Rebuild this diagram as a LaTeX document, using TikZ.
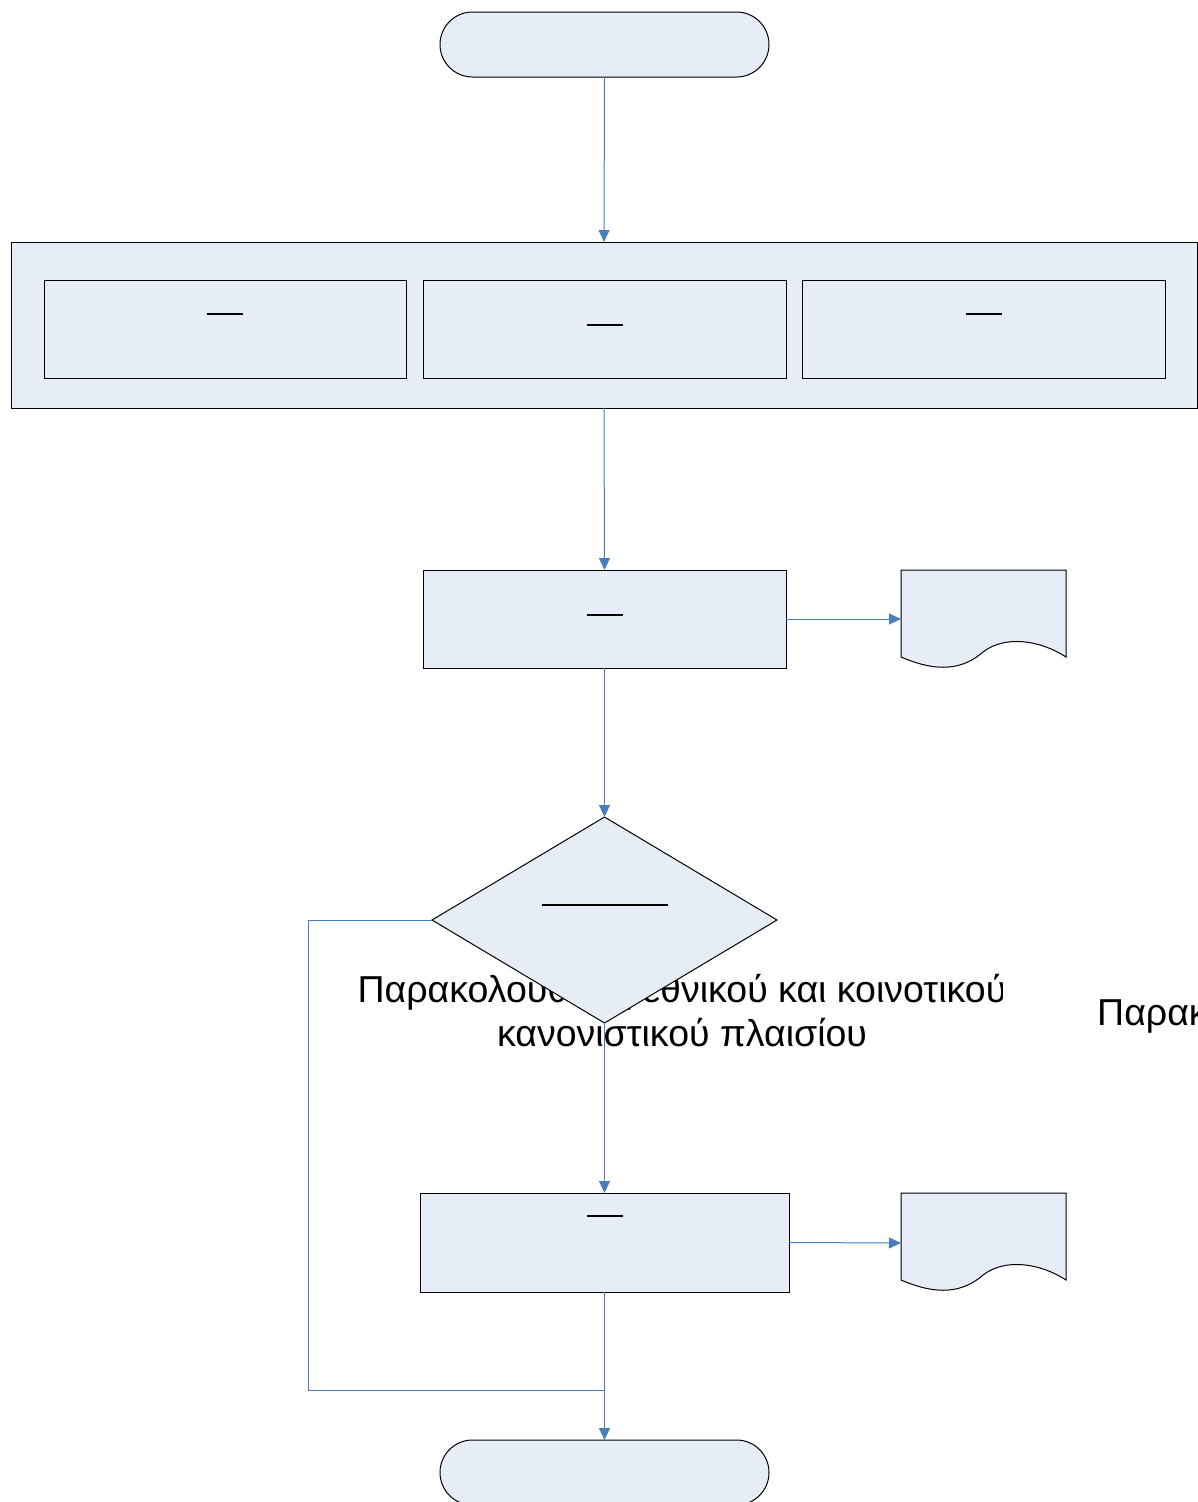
\documentclass[tikz,border=0pt]{standalone}
\usepackage{fontspec}
\setmainfont{Liberation Sans}
\usetikzlibrary{shapes.geometric,arrows.meta,calc}
\definecolor{fillblue}{RGB}{230,237,247}
\definecolor{linkblue}{RGB}{74,126,187}
\begin{document}
\begin{tikzpicture}[x=1pt,y=-1pt,
  shapebox/.style={draw=black,fill=fillblue,line width=1pt,inner sep=0pt,outer sep=0pt,rectangle},
  term/.style={shapebox,rounded corners=32.5pt,minimum width=329pt,minimum height=65pt},
  conn/.style={draw=linkblue,line width=1pt},
  arr/.style={conn,-{Triangle[length=12pt,width=11pt]}},
  bar/.style={draw=black,line width=2pt},
  lbl/.style={font=\fontsize{37.5}{44}\selectfont,inner sep=0pt,anchor=base}]
\useasboundingbox (0,0) rectangle (1197,1502);
% text behind shapes
\begin{scope}
\clip (0,900) rectangle (1002,1100);
\node[lbl] (t1) at (682,1002) {Παρακολούθηση εθνικού και κοινοτικού};
\end{scope}
\node[lbl] (t2) at (682,1046) {κανονιστικού πλαισίου};
\node[lbl,anchor=base west] (t3) at (1097,1025) {Παρακολούθηση εθνικού και κοινοτικού κανονιστικού πλαισίου};
% shapes
\node[term] (start) at (604.5,44.5) {};
\node[shapebox,minimum width=1186pt,minimum height=166pt] (cont) at (604,325) {};
\node[shapebox,minimum width=362pt,minimum height=98pt] (b1) at (225,329) {};
\node[shapebox,minimum width=363pt,minimum height=98pt] (b2) at (604.5,329) {};
\node[shapebox,minimum width=363pt,minimum height=98pt] (b3) at (983.5,329) {};
\node[shapebox,minimum width=363pt,minimum height=98pt] (p1) at (604.5,619) {};
\node[draw=black,fill=fillblue,line width=1pt,diamond,inner sep=0pt,outer sep=0pt,minimum width=345pt,minimum height=206pt] (dia) at (604.5,920) {};
\node[shapebox,minimum width=369pt,minimum height=99pt] (p2) at (604.5,1242.5) {};
\node[term] (end) at (604.5,1472.5) {};
% documents
\coordinate (d1) at (901,570);
\coordinate (d2) at (901,1193);
\foreach \d in {d1,d2}{
  \draw[black,fill=fillblue,line width=1pt] (\d) -- ++(165,0) -- ++(0,87)
    .. controls ++(-26,-17) and ++(22,-17) .. ++(-83,-5)
    .. controls ++(-25,22) and ++(28,12) .. ++(-82,5) -- cycle;
}
% bars (empty label placeholders)
\draw[bar] ($(b1.north)+(-18,34)$) -- ++(36,0);
\draw[bar] ($(b2.north)+(-18,45)$) -- ++(36,0);
\draw[bar] ($(b3.north)+(-18,34)$) -- ++(36,0);
\draw[bar] ($(p1.north)+(-18,45)$) -- ++(36,0);
\draw[bar] ($(dia.north)+(-63,88)$) -- ++(126,0);
\draw[bar] ($(p2.north)+(-18,23)$) -- ++(36,0);
% connectors
\coordinate (loopL) at (308,1390);
\coordinate (join) at (604.5,1390);
\coordinate (d1in) at (901,619);
\coordinate (d2in) at (901,1243);
\draw[arr] (start.south) -- (cont.north);
\draw[arr] (cont.south) -- (p1.north);
\draw[arr] (p1.east) -- (d1in);
\draw[arr] (p1.south) -- (dia.north);
\draw[arr] (dia.south) -- (p2.north);
\draw[arr] (p2.east) -- (d2in);
\draw[arr] (p2.south) -- (end.north);
\draw[conn] (dia.west) -| (loopL) -- (join);
\end{tikzpicture}
\end{document}
